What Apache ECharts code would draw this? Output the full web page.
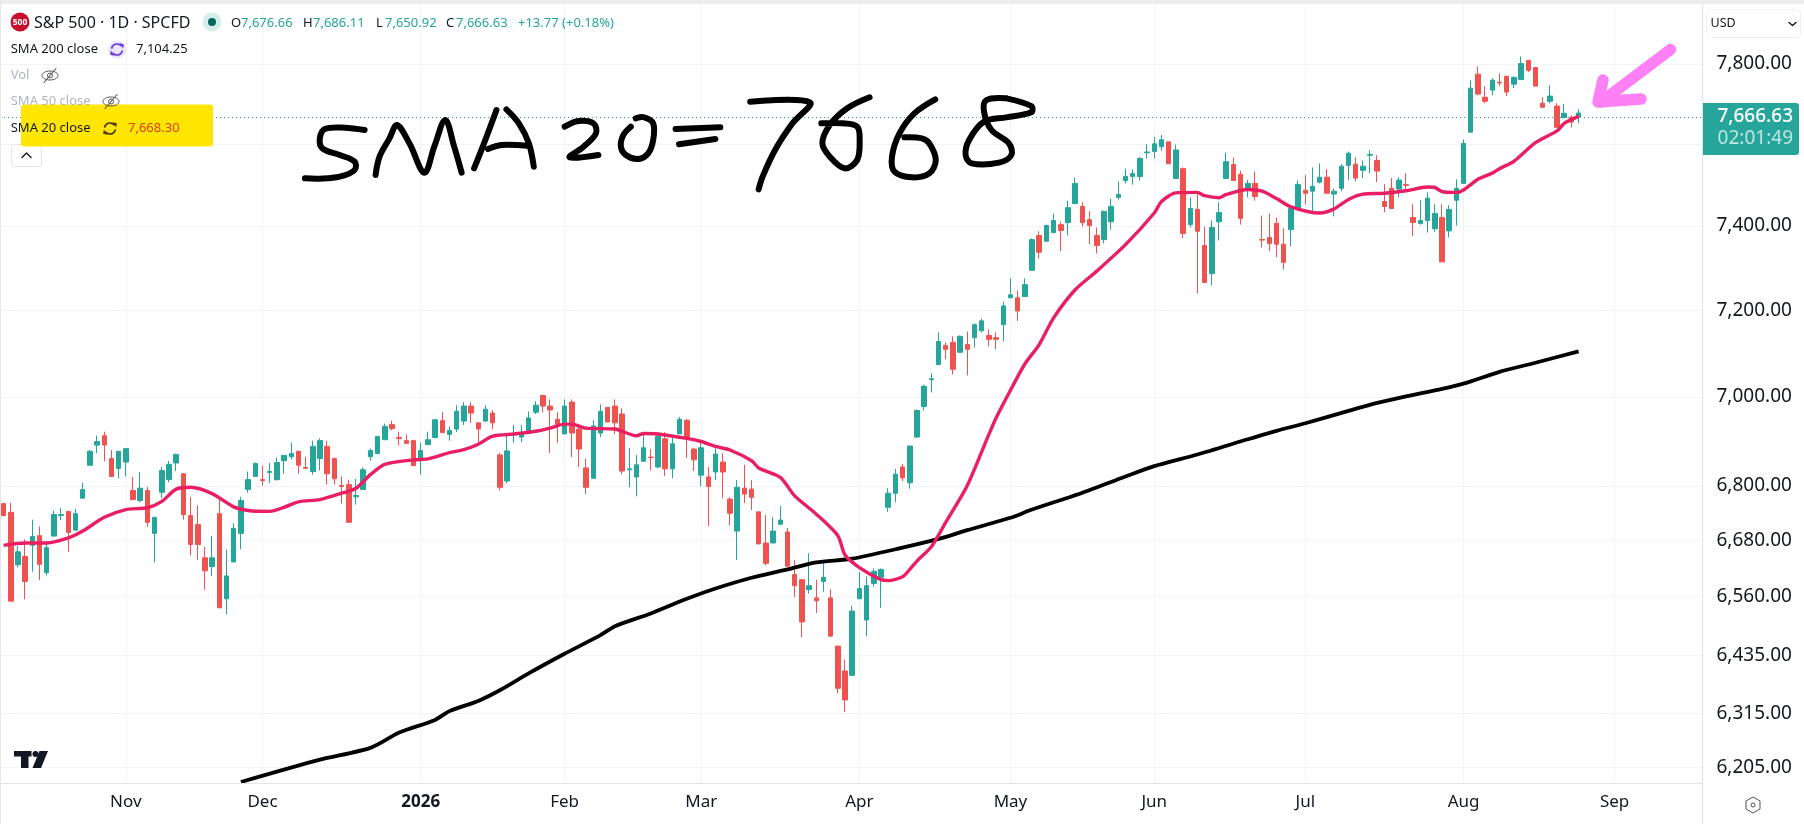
<!DOCTYPE html>
<html><head><meta charset="utf-8">
<style>html,body{margin:0;padding:0;background:#fff}#c{width:1804px;height:824px}</style>
<script src="https://cdn.jsdelivr.net/npm/echarts@6/dist/echarts.min.js"></script>
</head><body><div id="c"></div>
<script>
// ---- data ----
const monthLabels = ['Nov','Dec','2026','Feb','Mar','Apr','May','Jun','Jul','Aug','Sep'];
const monthBars   = [17,36,58,78,97,119,140,160,181,203,224];
const priceTicks  = [7800,7600,7400,7200,7000,6800,6680,6560,6435,6315,6205];
const hiddenPriceTick = 7600;
const openPrices = [
6761,6742,6628,6646,6670,6691,6611,6690,6735,6744,
6703,6773,6846,6891,6912,6861,6839,6853,6790,6768,
6790,6696,6786,6814,6851,6827,6735,6715,6643,6624,
6739,6555,6634,6696,6792,6821,6814,6830,6814,6856,
6865,6877,6841,6832,6861,6888,6861,6801,6803,6776,
6792,6865,6872,6903,6937,6908,6901,6901,6856,6892,
6908,6946,6915,
6927,6945,6979,6941,6945,6963,6869,6811,6914,6909,
6923,6965,7003,6979,6949,6916,6988,6927,6840,6817,
6918,6976,6979,6961,6836,6820,6855,6864,6842,6905,
6838,6916,6947,6882,6824,6820,6831,6853,6771,6701,
6795,6793,6743,6675,6675,6716,6699,6607,6596,6575,
6557,6592,6557,6455,6403,6394,6555,6510,6588,6601,
6753,6784,
6842,6807,6909,
6978,7039,7074,7118,7125,7102,7120,7136,7152,7141,
7136,7166,7229,7229,7232,7294,7377,7363,7384,7403,
7408,7454,7447,7415,7377,7367,7410,7469,7510,7520,
7520,7578,7581,7593,7605,7515,7539,7403,7440,7353,
7286,7410,7515,7549,7525,7486,7503,7367,7372,7406,
7356,7391,7440,
7486,7484,7506,7518,7477,7491,7547,7550,7535,7572,
7559,7459,7491,7489,7500,7420,7406,7413,7393,7420,
7388,7462,7503,7629,7774,7716,7734,7754,7769,7749,
7761,7809,7791,7701,7706,7694,7665,7666,7676.66];
const closePrices = [
6735,6550,6656,6592,6689,6629,6665,6737,6737,6698,
6739,6792,6877,6899,6891,6821,6877,6883,6770,6795,
6720,6731,6834,6848,6870,6737,6672,6672,6615,6643,
6536,6604,6707,6768,6814,6850,6812,6832,6852,6868,
6872,6846,6839,6888,6901,6827,6816,6799,6720,6779,
6836,6879,6910,6933,6928,6906,6895,6845,6879,6903,
6948,6919,6924,
6967,6979,6963,6927,6972,6941,6797,6878,6916,6918,
6952,6981,6979,6970,6938,6979,6918,6882,6797,6934,
6967,6943,6941,6833,6838,6847,6885,6863,6911,6838,
6894,6949,6909,6858,6885,6799,6871,6831,6740,6797,
6782,6775,6673,6631,6701,6725,6625,6583,6506,6583,
6551,6601,6476,6367,6343,6529,6577,6583,6614,6618,
6784,6826,
6818,6889,6969,
7024,7041,7127,7109,7063,7139,7109,7166,7175,7132,
7132,7210,7236,7198,7260,7367,7337,7401,7413,7389,
7444,7503,7408,7401,7353,7435,7447,7476,7520,7527,
7564,7580,7600,7610,7551,7585,7382,7442,7387,7265,
7396,7432,7556,7510,7418,7503,7471,7366,7358,7356,
7313,7442,7500,
7479,7496,7518,7479,7484,7545,7577,7516,7545,7574,
7533,7447,7442,7511,7498,7408,7413,7467,7430,7314,
7440,7491,7601,7739,7724,7706,7759,7752,7729,7766,
7801,7784,7744,7691,7719,7641,7676,7654,7666.63];
const lowPrices = [
6735,6550,6622,6554,6613,6595,6605,6690,6725,6656,
6703,6773,6846,6873,6855,6821,6817,6821,6768,6764,
6710,6633,6773,6808,6833,6726,6648,6639,6574,6604,
6535,6522,6634,6661,6785,6821,6801,6807,6812,6827,
6859,6827,6838,6825,6834,6803,6803,6761,6720,6759,
6792,6856,6870,6903,6924,6890,6895,6845,6825,6892,
6906,6919,6901,
6920,6936,6941,6897,6943,6927,6790,6806,6896,6898,
6923,6961,6965,6873,6896,6916,6864,6842,6782,6817,
6909,6943,6916,6826,6797,6777,6853,6835,6840,6822,
6817,6916,6862,6833,6799,6712,6813,6773,6714,6638,
6762,6747,6673,6627,6675,6714,6625,6559,6474,6566,
6525,6570,6474,6357,6318,6394,6555,6476,6581,6536,
6743,6764,
6811,6794,6907,
6969,7010,7074,7086,7051,7102,7049,7113,7148,7116,
7109,7127,7229,7175,7232,7294,7322,7363,7384,7339,
7377,7454,7398,7356,7334,7358,7391,7464,7503,7500,
7510,7564,7564,7583,7551,7515,7370,7396,7239,7265,
7258,7365,7515,7510,7403,7469,7461,7348,7339,7325,
7296,7351,7440,
7452,7433,7503,7479,7423,7484,7511,7508,7516,7528,
7506,7433,7442,7469,7489,7376,7403,7384,7386,7314,
7372,7401,7503,7629,7721,7701,7721,7744,7719,7739,
7761,7779,7744,7691,7701,7641,7664,7641,7650.92];
const highPrices = [
6761,6763,6668,6683,6726,6711,6679,6746,6752,6744,
6750,6807,6880,6912,6921,6880,6877,6883,6820,6831,
6798,6731,6842,6856,6872,6829,6776,6757,6667,6691,
6770,6661,6718,6776,6832,6852,6845,6851,6863,6868,
6897,6879,6865,6901,6906,6901,6863,6821,6814,6816,
6841,6883,6912,6939,6946,6921,6915,6903,6897,6921,
6950,6966,6933,
6981,6988,6988,6943,6981,6970,6873,6914,6936,6936,
6967,6990,7003,6994,6965,6994,6994,6938,6860,6947,
6983,6976,6994,6974,6885,6869,6914,6882,6918,6920,
6909,6954,6949,6885,6902,6842,6889,6873,6775,6813,
6847,6813,6743,6736,6732,6756,6708,6638,6596,6653,
6596,6636,6575,6455,6427,6540,6612,6603,6620,6620,
6795,6838,
6849,6889,6971,
7028,7054,7148,7125,7139,7141,7150,7169,7180,7155,
7148,7220,7275,7246,7275,7370,7387,7403,7430,7410,
7461,7517,7457,7435,7396,7437,7466,7508,7539,7537,
7568,7600,7617,7622,7605,7598,7542,7469,7481,7398,
7413,7457,7578,7566,7534,7512,7532,7425,7430,7420,
7394,7444,7510,
7523,7542,7552,7538,7491,7550,7581,7567,7559,7584,
7572,7501,7516,7518,7528,7452,7462,7481,7452,7452,
7450,7513,7611,7759,7794,7744,7764,7776,7769,7769,
7819,7811,7791,7716,7746,7701,7699,7671,7686.11];
const sma20Bars = [0,3,6,9,11,14,17,20,22,24,26,29,32,34,37,39,41,44,47,49,51,53,57,59,62,64,66,68,71,74,76,78,79,81,85,88,89,91,95,97,99,101,104,105,108,110,113,116,117,119,122,123,125,126,127,129,131,134,137,138,140,142,144,146,149,152,156,160,161,163,166,167,169,170,173,175,177,179,183,185,187,189,192,195,198,199,200,202,203,205,207,208,210,213,216,217,219];
const sma20Values = [6670,6675,6675,6686,6701,6731,6748,6752,6766,6793,6797,6783,6754,6746,6744,6753,6765,6770,6784,6795,6825,6848,6858,6860,6874,6881,6893,6911,6916,6922,6929,6938,6938,6929,6927,6912,6917,6916,6906,6899,6888,6880,6856,6840,6819,6778,6738,6691,6649,6622,6596,6594,6602,6618,6636,6667,6720,6801,6915,6952,7015,7075,7120,7182,7248,7292,7355,7431,7459,7480,7481,7473,7468,7476,7488,7484,7466,7446,7431,7441,7464,7477,7479,7485,7494,7493,7483,7481,7487,7513,7528,7539,7557,7603,7632,7651,7668.30];
const sma200Bars = [33,44,51,55,60,62,66,69,73,78,83,85,90,95,99,104,109,113,118,125,130,134,140,143,150,156,160,166,173,177,181,187,191,195,200,203,208,213,219];
const sma200Values = [6176,6221,6245,6276,6302,6320,6341,6363,6398,6439,6478,6497,6524,6555,6577,6600,6618,6633,6641,6665,6684,6703,6730,6748,6785,6821,6844,6870,6904,6923,6940,6968,6986,7001,7018,7030,7057,7078,7104.25];
const slotCount = 237;

const UP='#26a69a', DOWN='#ef5350';
const categories = Array.from({length:slotCount},(_,i)=>{const k=monthBars.indexOf(i);return k>=0?monthLabels[k]:''});
const candles = openPrices.map((o,i)=>{
  const item={value:[o,closePrices[i],lowPrices[i],highPrices[i]]};
  if(i===openPrices.length-1) item.itemStyle={color0:UP,borderColor0:UP};
  return item;
});
const AXFONT='"Noto Sans"';
const chart=echarts.init(document.getElementById('c'));

// ---- overlay helpers ----
const Z=100;
const txt=(x,y,text,fill,size,extra)=>({type:'text',z:Z+10,silent:true,style:Object.assign({x,y,text,fill,font:`${size}px ${AXFONT}`,verticalAlign:'middle',align:'left'},extra||{})});
const hw=(pts)=>({type:'polyline',z:Z,silent:true,shape:{points:pts.map(p=>[290+p[0]/2.01,80+p[1]/3]),smooth:0.35},style:{stroke:'#000',lineWidth:6,fill:null,lineCap:'round',lineJoin:'round'}});
const arc=(cx,cy,r,a,b,c,w)=>({type:'arc',z:Z+10,silent:true,shape:{cx,cy,r,startAngle:a,endAngle:b},style:{stroke:c,lineWidth:w,fill:null}});
const seg=(p,c,w,z)=>({type:'polyline',z:z||Z+10,silent:true,shape:{points:p},style:{stroke:c,lineWidth:w,fill:null,lineCap:'round',lineJoin:'round'}});
const refresh=(cx,cy,c,halo)=>[
  ...(halo?[{type:'circle',z:Z+5,silent:true,shape:{cx,cy,r:9},style:{fill:halo}}]:[]),
  arc(cx,cy,5.5,Math.PI*1.05,Math.PI*1.8,c,1.7),
  arc(cx,cy,5.5,Math.PI*0.05,Math.PI*0.8,c,1.7),
  {type:'polygon',z:Z+10,silent:true,shape:{points:[[cx+2.5,cy-6.5],[cx+7,cy-5],[cx+6,cy-1]]},style:{fill:c}},
  {type:'polygon',z:Z+10,silent:true,shape:{points:[[cx-2.5,cy+6.5],[cx-7,cy+5],[cx-6,cy+1]]},style:{fill:c}}];
const eyeOff=(cx,cy)=>[
  {type:'ellipse',z:Z+10,silent:true,shape:{cx,cy,rx:8,ry:4.5},style:{stroke:'#555',lineWidth:1,fill:null}},
  {type:'circle',z:Z+10,silent:true,shape:{cx,cy,r:2.5},style:{stroke:'#555',lineWidth:1,fill:null}},
  seg([[cx-6,cy+7],[cx+6,cy-7]],'#555',1.1)];

const overlay=[
  {type:'rect',z:Z,silent:true,shape:{x:0,y:0,width:1804,height:4},style:{fill:'#ececec'}},
  {type:'rect',z:Z,silent:true,shape:{x:0,y:0,width:1,height:824},style:{fill:'#e6e6e6'}},
  seg([[0,783.5],[1702.5,783.5]],'#e0e3eb',1.2,Z),
  seg([[1702.5,4],[1702.5,824]],'#e0e3eb',1.2,Z),
  // legend
  {type:'circle',z:Z,silent:true,shape:{cx:20,cy:22,r:9.5},style:{fill:'#c8102e'}},
  txt(20,22.5,'500','#fff',8.5,{align:'center',font:`bold 8.5px ${AXFONT}`}),
  txt(34,23,'S&P 500 · 1D · SPCFD','#131722',16),
  {type:'circle',z:Z,silent:true,shape:{cx:212,cy:22,r:9.5},style:{fill:'#d5eeeb'}},
  {type:'circle',z:Z,silent:true,shape:{cx:212,cy:22,r:4},style:{fill:'#00695c'}},
  txt(231,23,'O','#131722',13),txt(241,23,'7,676.66',UP,13),
  txt(303,23,'H','#131722',13),txt(313,23,'7,686.11',UP,13),
  txt(376,23,'L','#131722',13),txt(385,23,'7,650.92',UP,13),
  txt(446,23,'C','#131722',13),txt(456,23,'7,666.63',UP,13),
  txt(518,23,'+13.77 (+0.18%)',UP,13),
  txt(10.7,49.5,'SMA 200 close','#131722',13),
  ...refresh(117,49.5,'#6a3fe0','#ece6fb'),
  txt(136,49.5,'7,104.25','#131722',13),
  txt(10.7,75.5,'Vol','#b2b5be',13),
  ...eyeOff(50,75.5),
  txt(10.7,101.5,'SMA 50 close','#b2b5be',13),
  ...eyeOff(111,101.5),
  {type:'rect',z:Z+5,silent:true,shape:{x:21,y:104.5,width:192,height:42,r:3},style:{fill:'#ffe600'}},
  txt(10.7,128.5,'SMA 20 close','#131722',13),
  ...refresh(110,128.5,'#4a3a10',null),
  txt(128,128.5,'7,668.30','#e0401a',13),
  {type:'rect',z:Z,silent:true,shape:{x:11.5,y:144.5,width:30,height:22,r:3},style:{fill:'#fff',stroke:'#e0e3eb',lineWidth:1}},
  seg([[22,157.5],[26.5,153],[31,157.5]],'#131722',1.4),
  // USD box
  {type:'rect',z:Z,silent:true,shape:{x:1706.5,y:9.5,width:94,height:28,r:5},style:{fill:'#fff',stroke:'#eeeff3',lineWidth:1}},
  txt(1710.5,23.5,'USD','#131722',12.5),
  seg([[1789,22.5],[1792.5,25.5],[1796,22.5]],'#131722',1.4),
  // last price badge
  {type:'rect',z:Z,silent:true,shape:{x:1703,y:103,width:96,height:52,r:[0,3,3,0]},style:{fill:UP}},
  txt(1793,117,'7,666.63','#fff',19,{align:'right',font:`500 19px ${AXFONT}`}),
  txt(1793,139,'02:01:49','#bfe6e1',19,{align:'right'}),
  // settings hexagon
  {type:'polygon',z:Z,silent:true,shape:{points:[[1753,797],[1760,801],[1760,809],[1753,813],[1746,809],[1746,801]]},style:{stroke:'#50535e',lineWidth:1,fill:null}},
  {type:'circle',z:Z,silent:true,shape:{cx:1753,cy:805,r:2},style:{stroke:'#50535e',lineWidth:1,fill:null}},
  // TV logo
  {type:'polygon',z:Z,silent:true,shape:{points:[[14,751],[31.5,751],[31.5,756.5],[28.5,756.5],[28.5,768],[21,768],[21,756.5],[14,756.5]]},style:{fill:'#131722'}},
  {type:'circle',z:Z,silent:true,shape:{cx:35.5,cy:754,r:3},style:{fill:'#131722'}},
  {type:'polygon',z:Z,silent:true,shape:{points:[[39.5,751],[48,751],[41,768],[32.5,768]]},style:{fill:'#131722'}},
  // handwriting
  hw([[150,150],[110,143],[70,147],[60,175],[65,205],[100,225],[130,245],[130,270],[100,290],[60,296],[30,295]]),
  hw([[172,285],[180,230],[200,175],[215,135],[240,190],[270,278],[290,200],[312,120],[330,200],[345,278]]),
  hw([[370,265],[390,190],[415,90]]),
  hw([[435,88],[460,130],[480,190],[490,260]]),
  hw([[398,207],[425,195],[475,197]]),
  hw([[552,140],[580,123],[610,130],[615,160],[590,200],[562,232],[620,225]]),
  hw([[685,140],[670,165],[665,200],[675,225],[700,237],[720,220],[730,180],[730,130],[712,112],[695,115]]),
  hw([[775,147],[865,142]]),
  hw([[782,193],[855,177]]),
  hw([[925,65],[1045,67],[1010,130],[975,210],[950,290],[942,328]]),
  hw([[1165,52],[1120,85],[1085,135],[1070,190],[1085,230],[1115,265],[1140,240],[1145,180],[1140,140],[1110,130],[1068,130]]),
  hw([[1297,58],[1255,100],[1225,160],[1210,230],[1215,275],[1250,292],[1285,280],[1298,240],[1285,190],[1270,175],[1235,172]]),
  hw([[1440,55],[1400,60],[1395,95],[1410,150],[1445,190],[1450,225],[1425,248],[1370,250],[1358,225],[1365,180],[1395,125],[1440,112],[1490,97],[1490,78],[1440,55]]),
  // pink arrow
  seg([[1670.5,49.5],[1601,102]],'#fd80f5',11.5,Z),
  seg([[1603,80],[1598,102],[1641,99]],'#fd80f5',11.5,Z)
];

chart.setOption({
  animation:false,
  backgroundColor:'#fff',
  grid:{left:-1.93,top:4,width:1706.4,height:779,containLabel:false},
  xAxis:{type:'category',data:categories,boundaryGap:true,
    axisLine:{show:false},axisTick:{show:false,alignWithLabel:true,interval:(i,v)=>v!==''},
    splitLine:{show:true,alignWithLabel:true,interval:(i,v)=>v!=='',lineStyle:{color:'#f0f3fa',width:1}},
    axisLabel:{interval:(i,v)=>v!=='',margin:11,color:'#131722',fontFamily:AXFONT,fontSize:17,hideOverlap:false,
      formatter:v=>v==='2026'?'{b|2026}':v,rich:{b:{fontWeight:'bold',fontSize:17,fontFamily:AXFONT,color:'#131722'}}}},
  yAxis:{type:'log',position:'right',min:6174,max:7953.6,logBase:10,scale:true,
    axisLine:{show:false},axisTick:{show:false,customValues:priceTicks},minorTick:{show:false},minorSplitLine:{show:false},
    splitLine:{show:true,lineStyle:{color:'#f0f3fa',width:1}},
    axisLabel:{customValues:priceTicks,margin:12,color:'#131722',fontFamily:AXFONT,fontSize:19,
      formatter:v=>{const r=Math.round(v);return r===hiddenPriceTick?'':r.toLocaleString('en-US',{minimumFractionDigits:2,maximumFractionDigits:2})}}},
  graphic:{elements:overlay},
  series:[
    {type:'candlestick',name:'S&P 500',data:candles,barWidth:5,z:3,
      itemStyle:{color:UP,color0:DOWN,borderColor:UP,borderColor0:DOWN,borderWidth:1},
      markLine:{silent:true,symbol:'none',label:{show:false},animation:false,
        lineStyle:{color:UP,type:[1,3],width:1},data:[{yAxis:7666.63}]}},
    {type:'line',name:'SMA 200 close',data:sma200Bars.map((b,i)=>[b,sma200Values[i]]),showSymbol:false,symbol:'none',z:4,
      smooth:0.25,lineStyle:{color:'#000',width:3.8}},
    {type:'line',name:'SMA 20 close',data:sma20Bars.map((b,i)=>[b,sma20Values[i]]),showSymbol:false,symbol:'none',z:5,
      smooth:0.25,lineStyle:{color:'#e91e63',width:3.4}}
  ]
});
</script></body></html>
